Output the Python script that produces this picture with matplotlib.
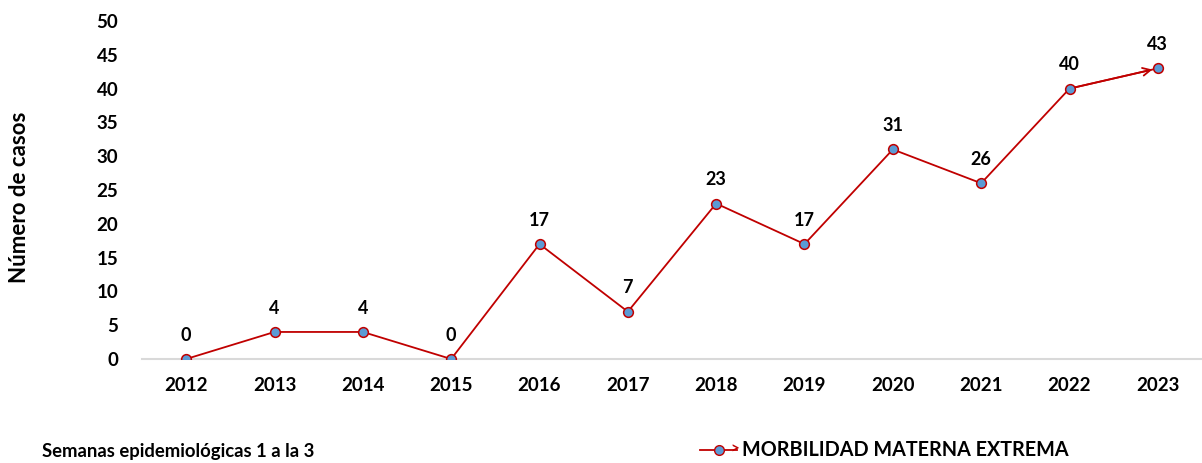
import matplotlib.pyplot as plt
import numpy as np

years = ['2012', '2013', '2014', '2015', '2016', '2017',
         '2018', '2019', '2020', '2021', '2022', '2023']
casos = [0, 4, 4, 0, 17, 7, 23, 17, 31, 26, 40, 43]
y_ticks = [0, 5, 10, 15, 20, 25, 30, 35, 40, 45, 50]

line_color = '#C00000'
marker_color = '#5B9BD5'

plt.rcParams['font.family'] = ['Lato', 'DejaVu Sans']
plt.rcParams['font.weight'] = 'bold'

fig = plt.figure(figsize=(12.02, 4.63), dpi=100)
ax = fig.add_axes([142 / 1202, 1 - 359 / 463, 1 - 142 / 1202, (359 - 21) / 463])

x = np.arange(len(years))
ax.plot(x, casos, color=line_color, lw=1.3, marker='o', ms=7,
        mfc=marker_color, mec=line_color, mew=1.1, zorder=3)

# arrow head on last segment
ax.annotate('', xy=(x[-1], casos[-1]), xytext=(x[-2], casos[-2]),
            arrowprops=dict(arrowstyle='->', color=line_color, lw=1.3,
                            mutation_scale=14, shrinkA=0, shrinkB=4),
            zorder=2)

for xi, v in zip(x, casos):
    ax.annotate(str(v), (xi, v), xytext=(0, 11), textcoords='offset points',
                ha='center', va='bottom', fontsize=13, fontweight='bold')

ax.set_xlim(-0.5, len(years) - 0.5)
ax.set_ylim(0, 50)
ax.set_xticks(x)
ax.set_xticklabels(years)
ax.set_yticks(y_ticks)
ax.tick_params(axis='both', length=0, labelsize=13.5)
ax.tick_params(axis='x', pad=13)
ax.tick_params(axis='y', pad=17)
for lab in ax.get_xticklabels() + ax.get_yticklabels():
    lab.set_fontweight('bold')

for side in ['top', 'right', 'left']:
    ax.spines[side].set_visible(False)
ax.spines['bottom'].set_color('#D9D9D9')
ax.spines['bottom'].set_linewidth(1.5)
ax.spines['bottom'].set_zorder(1)

fig.text(20 / 1202, 1 - 197 / 463, 'Número de casos', rotation=90,
         ha='center', va='center', fontsize=16, fontweight='bold')
fig.text(42 / 1202, 1 - 452 / 463, 'Semanas epidemiológicas 1 a la 3',
         ha='left', va='center', fontsize=13.3, fontweight='bold')

# legend entry
lx0, lx1, ly = 700 / 1202, 737 / 1202, 1 - 450 / 463
fig.add_artist(plt.Line2D([lx0, lx1], [ly, ly], transform=fig.transFigure,
                          color=line_color, lw=1.3))
fig.add_artist(plt.Line2D([(lx0 + lx1) / 2], [ly], transform=fig.transFigure,
                          marker='o', ms=7, mfc=marker_color, mec=line_color))
fig.text(lx1 - 2 / 1202, ly, '>', ha='center', va='center', color=line_color,
         fontsize=11, fontweight='bold')
fig.text(742 / 1202, ly, 'MORBILIDAD MATERNA EXTREMA', ha='left', va='center',
         fontsize=14.2, fontweight='bold')

fig.savefig('out.png', dpi=100)
